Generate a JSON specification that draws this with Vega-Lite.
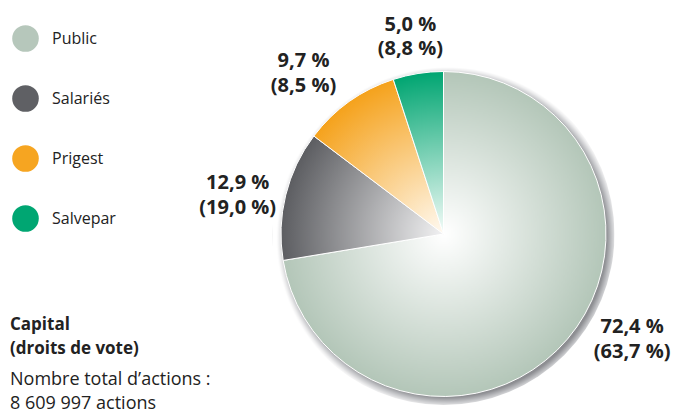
{
  "$schema": "https://vega.github.io/schema/vega-lite/v6.json",
  "width": 469,
  "height": 372,
  "autosize": {"type": "none"},
  "padding": {"left": 209, "top": 48, "right": 0, "bottom": 0},
  "background": "white",
  "config": {"view": {"stroke": null}, "font": "Open Sans"},
  "data": {
    "values": [
      {"holder": "Public", "capital": 72.4, "votes": 63.7, "label": "72,4 %\n(63,7 %)"},
      {"holder": "Salariés", "capital": 12.9, "votes": 19.0, "label": "12,9 %\n(19,0 %)"},
      {"holder": "Prigest", "capital": 9.7, "votes": 8.5, "label": "9,7 %\n(8,5 %)"},
      {"holder": "Salvepar", "capital": 5.0, "votes": 8.8, "label": "5,0 %\n(8,8 %)"}
    ]
  },
  "title": {
    "text": ["Capital", "(droits de vote)"],
    "subtitle": ["Nombre total d’actions :", "8 609 997 actions"],
    "orient": "bottom",
    "anchor": "start",
    "frame": "group",
    "offset": -103,
    "dx": -199,
    "font": "Open Sans",
    "fontSize": 17,
    "fontWeight": "bold",
    "color": "#222222",
    "lineHeight": 24,
    "subtitleFont": "Open Sans",
    "subtitleFontSize": 18,
    "subtitleColor": "#222222",
    "subtitleLineHeight": 24,
    "subtitlePadding": 13
  },
  "layer": [
    {
      "mark": {"type": "arc", "outerRadius": 171, "theta": 0, "theta2": 6.2832, "strokeWidth": 0,
        "fill": {"gradient": "radial", "x1": 0.512, "y1": 0.512, "r1": 0, "x2": 0.512, "y2": 0.512, "r2": 0.5,
          "stops": [{"offset": 0, "color": "#8d8e92"}, {"offset": 0.93, "color": "#8d8e92"}, {"offset": 0.96, "color": "#c4c5c8"}, {"offset": 0.985, "color": "#eeeeef"}, {"offset": 1, "color": "#ffffff"}]}},
      "encoding": {
        "opacity": {"condition": {"test": "datum.holder === 'Public'", "value": 1}, "value": 0}
      }
    },
    {
      "mark": {"type": "arc", "outerRadius": 162.5, "fillOpacity": 0, "strokeOpacity": 0},
      "encoding": {
        "theta": {"field": "capital", "type": "quantitative", "stack": true},
        "order": {"field": "capital", "sort": "descending"},
        "color": {
          "field": "holder",
          "type": "nominal",
          "sort": ["Public", "Salariés", "Prigest", "Salvepar"],
          "scale": {
            "domain": ["Public", "Salariés", "Prigest", "Salvepar"],
            "range": ["#b6c7bb", "#5f6064", "#f6a521", "#00a672"]
          },
          "legend": {
            "orient": "none",
            "legendX": -197,
            "legendY": -23,
            "title": null,
            "symbolType": "circle",
            "symbolSize": 707,
            "symbolStrokeWidth": 0,
            "symbolOpacity": 1,
            "labelFont": "Open Sans",
            "labelFontSize": 16,
            "labelColor": "#222222",
            "labelOffset": 13,
            "rowPadding": 33,
            "padding": 0,
            "encode": {"symbols": {"update": {"fillOpacity": {"value": 1}, "opacity": {"value": 1}}}}
          }
        }
      }
    },
    {
      "mark": {"type": "arc", "outerRadius": 162.5, "stroke": "white", "strokeWidth": 1},
      "encoding": {
        "theta": {"field": "capital", "type": "quantitative", "stack": true},
        "order": {"field": "capital", "sort": "descending"},
        "fill": {
          "condition": [
            {"test": "datum.holder === 'Public'", "value": {"gradient": "radial", "x1": 0.497, "y1": 0.5, "r1": 0, "x2": 0.497, "y2": 0.5, "r2": 0.5, "stops": [{"offset": 0, "color": "#ffffff"}, {"offset": 1, "color": "#b3c6b8"}]}},
            {"test": "datum.holder === 'Salariés'", "value": {"gradient": "radial", "x1": 1.0, "y1": 0.72, "r1": 0, "x2": 1.0, "y2": 0.72, "r2": 1.0, "stops": [{"offset": 0, "color": "#f2f2f3"}, {"offset": 1, "color": "#5c5d61"}]}},
            {"test": "datum.holder === 'Prigest'", "value": {"gradient": "radial", "x1": 0.919, "y1": 1.0, "r1": 0, "x2": 0.919, "y2": 1.0, "r2": 1.05, "stops": [{"offset": 0, "color": "#fffaf2"}, {"offset": 1, "color": "#f5a21c"}]}}
          ],
          "value": {"gradient": "radial", "x1": 0.654, "y1": 1.0, "r1": 0, "x2": 0.654, "y2": 1.0, "r2": 1.0, "stops": [{"offset": 0, "color": "#f5fcf9"}, {"offset": 1, "color": "#00a571"}]}
        }
      }
    },
    {
      "mark": {"type": "text", "radius": 212, "fontSize": 20, "fontWeight": "bold", "lineBreak": "\n", "lineHeight": 24.5, "color": "#222222", "align": "center", "baseline": "middle", "font": "Open Sans"},
      "encoding": {
        "theta": {"field": "capital", "type": "quantitative", "stack": true},
        "order": {"field": "capital", "sort": "descending"},
        "text": {"field": "label", "type": "nominal"},
        "opacity": {"condition": {"test": "datum.holder === 'Salariés' || datum.holder === 'Salvepar'", "value": 1}, "value": 0}
      }
    },
    {
      "mark": {"type": "text", "radius": 212, "dx": -17, "fontSize": 20, "fontWeight": "bold", "lineBreak": "\n", "lineHeight": 24.5, "color": "#222222", "align": "center", "baseline": "middle", "font": "Open Sans"},
      "encoding": {
        "theta": {"field": "capital", "type": "quantitative", "stack": true},
        "order": {"field": "capital", "sort": "descending"},
        "text": {"field": "label", "type": "nominal"},
        "opacity": {"condition": {"test": "datum.holder === 'Prigest'", "value": 1}, "value": 0}
      }
    },
    {
      "mark": {"type": "text", "radius": 212, "dx": 27, "dy": -44, "fontSize": 20, "fontWeight": "bold", "lineBreak": "\n", "lineHeight": 24.5, "color": "#222222", "align": "center", "baseline": "middle", "font": "Open Sans"},
      "encoding": {
        "theta": {"field": "capital", "type": "quantitative", "stack": true},
        "order": {"field": "capital", "sort": "descending"},
        "text": {"field": "label", "type": "nominal"},
        "opacity": {"condition": {"test": "datum.holder === 'Public'", "value": 1}, "value": 0}
      }
    }
  ]
}
